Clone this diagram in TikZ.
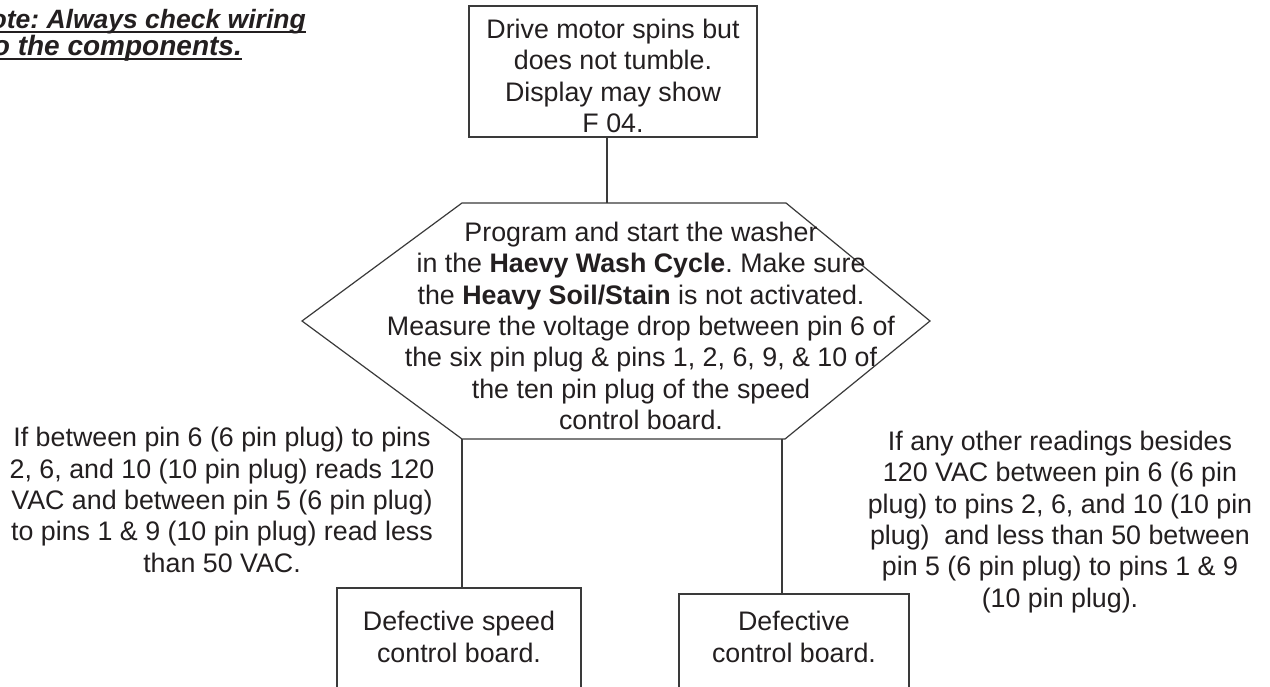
\documentclass[tikz,border=0pt]{standalone}
\usepackage{fontspec}
\setmainfont{Liberation Sans}
\frenchspacing
\definecolor{ink}{HTML}{231F20}
\definecolor{linec}{HTML}{3A3A3A}
\newcommand{\mainsz}{\fontsize{26.8}{31.3}\selectfont}
\begin{document}
\begin{tikzpicture}[x=1pt,y=-1pt,
  boxshape/.style={draw=linec, line width=1.2pt, inner sep=0pt},
  txt/.style={align=center, font=\mainsz, text=ink, inner sep=0pt},
  notetxt/.style={font=\bfseries\itshape, text=ink, inner sep=0pt},
  conn/.style={draw=linec, line width=1.2pt},
  ul/.style={draw=ink, line width=1.8pt}]
\useasboundingbox (0,0) rectangle (1270,687);
\clip (0,0) rectangle (1270,687);
\fill[white] (0,0) rectangle (1270,687);

% note
\node[notetxt, font=\fontsize{26.5}{28}\selectfont\bfseries\itshape, anchor=base east] (n1) at (306,29) {\frenchspacing Note: Always check wiring};
\node[notetxt, font=\fontsize{28}{30}\selectfont\bfseries\itshape, anchor=base east] (n2) at (242,56) {to the components.};
\draw[ul] ([yshift=-3pt]n1.base west) -- ([yshift=-3pt]n1.base east);
\draw[ul] ([yshift=-3pt]n2.base west) -- ([yshift=-3pt]n2.base east);

% top box
\node[boxshape, minimum width=288pt, minimum height=131pt] (top) at (613,71.5) {};
\node[txt] (topt) at (613,76) {Drive motor spins but\\does not tumble.\\Display may show\\F 04.};

% hexagon
\coordinate (hL) at (302,321);
\coordinate (hTL) at (462,203);
\coordinate (hTR) at (786,203);
\coordinate (hR) at (930,321);
\coordinate (hBR) at (785,439);
\coordinate (hBL) at (462,439);
\coordinate (hTop) at (607,203);
\draw[conn] (hL) -- (hTL) -- (hTR) -- (hR) -- (hBR) -- (hBL) -- cycle;
\node[txt] (hext) at (641,326) {Program and start the washer\\in the \textbf{Haevy Wash Cycle}. Make sure\\the \textbf{Heavy Soil/Stain} is not activated.\\Measure the voltage drop between pin 6 of\\the six pin plug \& pins 1, 2, 6, 9, \& 10 of\\the ten pin plug of the speed\\control board.};

% side texts
\node[txt] (lt) at (222,500) {If between pin 6 (6 pin plug) to pins\\2, 6, and 10 (10 pin plug) reads 120\\VAC and between pin 5 (6 pin plug)\\to pins 1 \& 9 (10 pin plug) read less\\than 50 VAC.};
\node[txt] (rt) at (1060,522) {If any other readings besides\\120 VAC between pin 6 (6 pin\\plug) to pins 2, 6, and 10 (10 pin\\plug)\ \ and less than 50 between\\pin 5 (6 pin plug) to pins 1 \& 9\\(10 pin plug).};

% bottom boxes
\node[boxshape, minimum width=244pt, minimum height=106pt] (b1) at (459,641) {};
\node[txt] (b1t) at (459,637) {Defective speed\\control board.};
\node[boxshape, minimum width=230pt, minimum height=104pt] (b2) at (794,646) {};
\node[txt] (b2t) at (794,637) {Defective\\control board.};

% connectors
\coordinate (c1) at (607,137);
\draw[conn] (top.south -| c1) -- (hTop);
\draw[conn] (hBL) -- (hBL |- b1.north);
\coordinate (hB2) at (782,439);
\draw[conn] (hB2) -- (hB2 |- b2.north);
\end{tikzpicture}
\end{document}
